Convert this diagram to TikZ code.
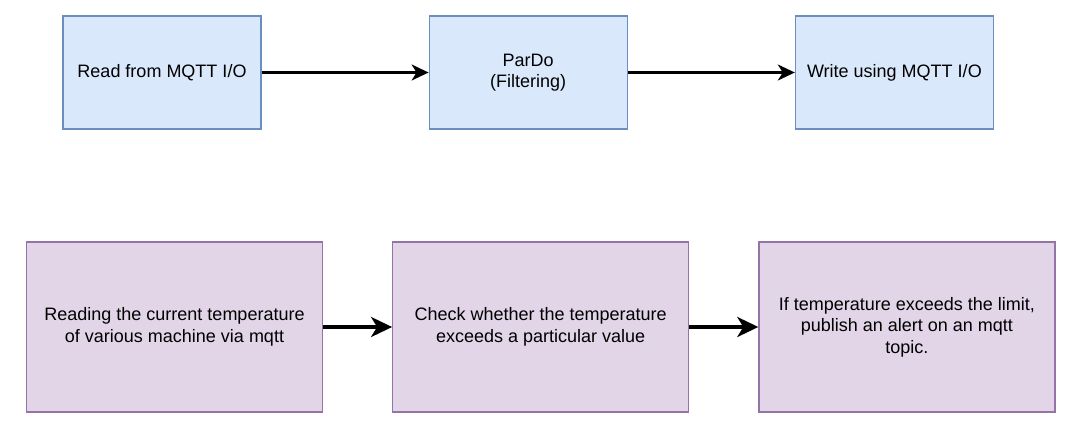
\documentclass[tikz,border=0pt]{standalone}
\usepackage{fontspec}
\setmainfont{Liberation Sans}
\usetikzlibrary{positioning, arrows.meta}

\definecolor{blueFill}{HTML}{DAE8FC}
\definecolor{blueLine}{HTML}{6C8EBF}
\definecolor{purpleFill}{HTML}{E1D5E7}
\definecolor{purpleLine}{HTML}{9673A6}

\tikzset{
	stage/.style={draw=blueLine, fill=blueFill, line width=1.2pt, minimum width=198pt, minimum height=113pt, align=center, inner sep=0pt, font=\fontsize{18}{21.6}\selectfont},
	task/.style={draw=purpleLine, fill=purpleFill, line width=1.2pt, minimum width=296pt, minimum height=170pt, align=center, inner sep=0pt, font=\fontsize{18}{21.6}\selectfont},
	flow/.style={line width=2.2pt, -{Stealth[length=17pt, width=16pt, inset=5pt]}},
	bigflow/.style={line width=3.4pt, -{Stealth[length=21pt, width=20pt, inset=6pt]}}
}

\begin{document}
\begin{tikzpicture}[x=1pt, y=-1pt]
					\def\W{1070};
					\def\H{428};
					\useasboundingbox (0,0) rectangle (\W,\H);
					
					% pipeline
					\begin{scope}[node distance=167pt]
						\node [stage] (read) at (162,72.5) {Read from MQTT I/O};
						\node [stage, right=of read] (pardo) {ParDo\\(Filtering)};
						\node [stage, right=of pardo] (write) {Write using MQTT I/O};
						\draw [flow] (read) -- (pardo);
						\draw [flow] (pardo) -- (write);
					\end{scope}
					
					% what each step does
					\begin{scope}[node distance=69pt]
						\node [task] (reading) at (174.5,327) {Reading the current temperature\\of various machine via mqtt};
						\node [task, right=of reading] (check) {Check whether the temperature\\exceeds a particular value};
						\node [task, right=of check] (alert) {If temperature exceeds the limit,\\publish an alert on an mqtt\\topic.};
						\draw [bigflow] (reading) -- (check);
						\draw [bigflow] (check) -- (alert);
					\end{scope}
				\end{tikzpicture}
\end{document}
